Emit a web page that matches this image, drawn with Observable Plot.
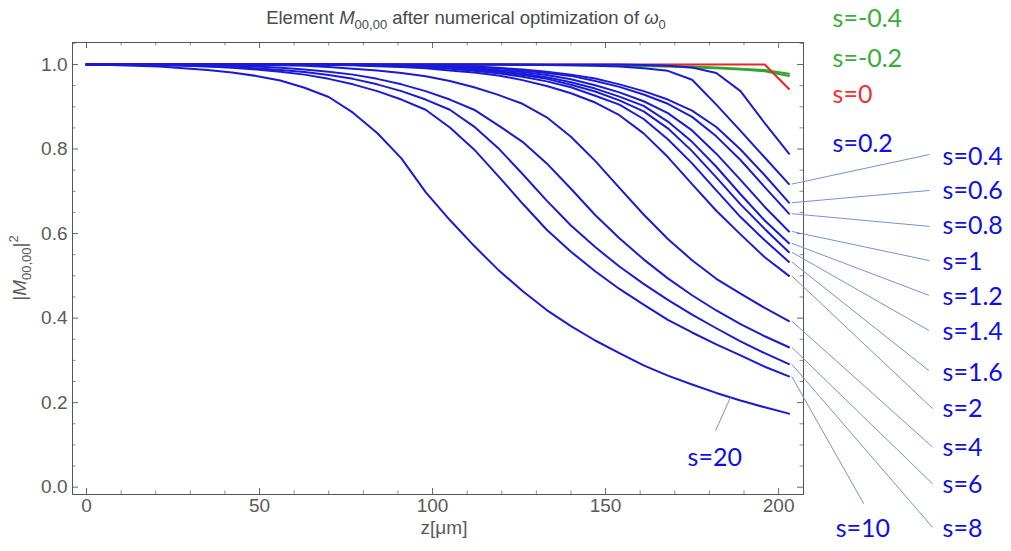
<!DOCTYPE html>
<html>
<head>
<meta charset="utf-8">
<script src="https://cdn.jsdelivr.net/npm/d3@7"></script>
<script src="https://cdn.jsdelivr.net/npm/@observablehq/plot@0.6"></script>
<style>
  body { margin: 0; background: #fff; }
  #chart { width: 1011px; height: 551px; }
</style>
</head>
<body>
<div id="chart"></div>
<script>
// Propagation distance z [µm] at which |M00,00|² was evaluated
const zGrid = [0,7,14,21,28,35,42,49,56,63,70,77,84,91,98,105,112,119,126,133,140,147,154,161,168,175,182,189,196,203];

// |M00,00|² for each value of s
const m_sNeg04 = [1,1,1,1,1,1,1,1,1,1,1,1,1,1,1,1,1,1,1,0.999,0.998,0.998,0.997,0.996,0.995,0.993,0.991,0.988,0.984,0.973];
const m_sNeg02 = [1,1,1,1,1,1,1,1,1,1,1,1,1,1,1,1,1,1,1,0.999,0.999,0.998,0.998,0.997,0.996,0.995,0.993,0.990,0.987,0.978];
const m_s0     = [1,1,1,1,1,1,1,1,1,1,1,1,1,1,1,1,1,1,1,1,1,1,1,1,1,1,1,1,1,0.942];
const m_s02    = [1,1,1,1,1,1,1,1,1,1,1,1,1,1,1,1,1,1,1,1,1,1,1,0.999,0.997,0.993,0.980,0.937,0.861,0.789];
const m_s04    = [1,1,1,1,1,1,1,1,1,1,1,1,1,1,1,1,1,1,0.999,0.999,0.998,0.997,0.995,0.991,0.985,0.964,0.905,0.843,0.780,0.717];
const m_s06    = [1,1,1,1,1,1,1,1,1,1,1,1,1,0.999,0.998,0.997,0.995,0.992,0.988,0.983,0.976,0.967,0.953,0.937,0.917,0.891,0.852,0.799,0.738,0.673];
const m_s08    = [1,1,1,1,1,1,1,1,1,1,1,1,0.999,0.999,0.997,0.996,0.994,0.991,0.986,0.980,0.973,0.961,0.947,0.929,0.907,0.876,0.830,0.774,0.710,0.647];
const m_s1     = [1,1,1,1,1,1,1,1,1,1,1,0.999,0.999,0.998,0.996,0.995,0.991,0.987,0.982,0.975,0.965,0.951,0.934,0.913,0.885,0.844,0.789,0.727,0.663,0.605];
const m_s12    = [1,1,1,1,1,1,1,1,1,1,0.999,0.999,0.998,0.997,0.996,0.993,0.989,0.984,0.978,0.970,0.958,0.943,0.924,0.902,0.865,0.817,0.758,0.693,0.631,0.577];
const m_s14    = [1,1,1,1,1,1,1,1,1,1,0.999,0.999,0.998,0.996,0.995,0.992,0.987,0.982,0.975,0.966,0.952,0.936,0.915,0.889,0.849,0.795,0.733,0.669,0.611,0.556];
const m_s16    = [1,1,1,1,1,1,1,1,1,0.9995,0.999,0.999,0.997,0.996,0.993,0.990,0.985,0.979,0.971,0.960,0.946,0.926,0.905,0.871,0.823,0.766,0.702,0.639,0.584,0.533];
const m_s2     = [1,1,1,1,1,1,1,1,0.9995,0.999,0.999,0.998,0.996,0.994,0.991,0.986,0.981,0.974,0.963,0.949,0.932,0.910,0.880,0.837,0.781,0.717,0.654,0.598,0.544,0.500];
const m_s4     = [1,1,1,1,1,1,0.999,0.999,0.998,0.997,0.994,0.990,0.986,0.980,0.972,0.961,0.946,0.928,0.907,0.875,0.829,0.772,0.708,0.645,0.587,0.537,0.493,0.458,0.424,0.393];
const m_s6     = [1,1,1,1,0.999,0.998,0.997,0.995,0.992,0.988,0.983,0.976,0.966,0.953,0.937,0.917,0.893,0.856,0.817,0.766,0.706,0.644,0.589,0.539,0.494,0.454,0.418,0.386,0.357,0.331];
const m_s8     = [1,1,1,0.999,0.998,0.996,0.994,0.991,0.987,0.982,0.975,0.966,0.953,0.937,0.917,0.893,0.853,0.802,0.741,0.678,0.619,0.568,0.522,0.481,0.443,0.408,0.376,0.345,0.317,0.291];
const m_s10    = [1,1,0.999,0.998,0.997,0.995,0.992,0.988,0.983,0.976,0.966,0.953,0.937,0.917,0.893,0.851,0.799,0.736,0.671,0.609,0.557,0.511,0.469,0.432,0.396,0.366,0.338,0.312,0.285,0.262];
const m_s20    = [1,0.999,0.997,0.995,0.991,0.987,0.981,0.973,0.962,0.945,0.923,0.886,0.838,0.778,0.698,0.632,0.571,0.514,0.464,0.419,0.381,0.347,0.317,0.288,0.264,0.243,0.223,0.205,0.189,0.174];

const sNames  = ["s=-0.4","s=-0.2","s=0","s=0.2","s=0.4","s=0.6","s=0.8","s=1","s=1.2","s=1.4","s=1.6","s=2","s=4","s=6","s=8","s=10","s=20"];
const sSeries = [m_sNeg04,m_sNeg02,m_s0,m_s02,m_s04,m_s06,m_s08,m_s1,m_s12,m_s14,m_s16,m_s2,m_s4,m_s6,m_s8,m_s10,m_s20];
const sGroup  = ["neg","neg","zero","pos","pos","pos","pos","pos","pos","pos","pos","pos","pos","pos","pos","pos","pos"];

// Annotation placement (data units: z, |M|²) and leader lines
const labelZ = [215.6,215.6,215.6,215.6,247.4,247.4,247.4,247.4,247.4,247.4,247.4,247.4,247.4,247.4,247.4,216.5,173.7];
const labelV = [1.107,1.012,0.927,0.811,0.780,0.700,0.617,0.532,0.450,0.368,0.270,0.184,0.093,0.006,-0.098,-0.098,0.070];
const leaderFromZ = [null,null,null,null,203.8,203.8,203.8,203.8,203.8,203.8,203.8,203.8,203.8,203.8,203.8,203.8,186.1];
const leaderToZ   = [null,null,null,null,243.6,243.6,243.6,243.6,243.4,243.4,243.4,244.5,244.5,244.5,244.5,224.6,181.8];
const leaderToV   = [null,null,null,null,0.787,0.702,0.617,0.536,0.454,0.371,0.276,0.186,0.095,0.008,-0.095,-0.039,0.134];

const xMajor = [0,50,100,150,200];
const xMinor = [10,20,30,40,60,70,80,90,110,120,130,140,160,170,180,190,200];
const yMajor = [0,0.2,0.4,0.6,0.8,1.0];
const yMinor = [0.05,0.1,0.15,0.25,0.3,0.35,0.45,0.5,0.55,0.65,0.7,0.75,0.85,0.9,0.95,1.05];

const colors = {neg: "#2fa52f", zero: "#ee2424", pos: "#1a1ad9"};
const labelColors = {neg: "#38ae38", zero: "#f23030", pos: "#1010e6"};

// tidy rows for the line marks
const rows = sNames.flatMap((name, i) =>
  zGrid.map((z, j) => ({s: name, group: sGroup[i], z, v: sSeries[i][j]})));

// value of a series at z (linear between samples), used to anchor leaders on the curve
function valueAt(series, z) {
  if (z >= zGrid[zGrid.length - 1]) return series[series.length - 1];
  const j = zGrid.findIndex(g => g > z);
  const t = (z - zGrid[j - 1]) / (zGrid[j] - zGrid[j - 1]);
  return series[j - 1] + t * (series[j] - series[j - 1]);
}

const labels = sNames.map((name, i) => ({
  text: name, group: sGroup[i], z: labelZ[i], v: labelV[i]
}));
const leaders = sNames.map((name, i) => leaderFromZ[i] == null ? null : ({
  x1: leaderFromZ[i],
  y1: valueAt(sSeries[i], Math.min(leaderFromZ[i], 203)),
  x2: leaderToZ[i], y2: leaderToV[i]
})).filter(Boolean);

const W = 1011, H = 551;
const mL = 72, mR = 208, mT = 42, mB = 57;
const fw = W - mL - mR, fh = H - mT - mB;

const plot = Plot.plot({
  width: W, height: H,
  marginLeft: mL, marginRight: mR, marginTop: mT, marginBottom: mB,
  x: {domain: [-4.05, 207.2]},
  y: {domain: [-0.0173, 1.052]},
  style: {fontFamily: "'Liberation Sans', Arial, sans-serif", fontSize: "19px", background: "#fff", overflow: "visible"},
  marks: [
    // inward frame ticks on all four sides
    Plot.tickX(xMajor, {x: d => d, insetTop: fh - 6, stroke: "#666"}),
    Plot.tickX(xMinor, {x: d => d, insetTop: fh - 3.5, stroke: "#888"}),
    Plot.tickX(xMajor, {x: d => d, insetBottom: fh - 6, stroke: "#666"}),
    Plot.tickX(xMinor, {x: d => d, insetBottom: fh - 3.5, stroke: "#888"}),
    Plot.tickY(yMajor, {y: d => d, insetRight: fw - 6, stroke: "#666"}),
    Plot.tickY(yMinor, {y: d => d, insetRight: fw - 3.5, stroke: "#888"}),
    Plot.tickY(yMajor, {y: d => d, insetLeft: fw - 6, stroke: "#666"}),
    Plot.tickY(yMinor, {y: d => d, insetLeft: fw - 3.5, stroke: "#888"}),
    Plot.axisX({ticks: xMajor, tickSize: 0, tickPadding: 4, fontSize: 19, fill: "#5a5a5a", label: null}),
    Plot.axisY({ticks: yMajor, tickSize: 0, tickPadding: 5, fontSize: 19, fill: "#5a5a5a", label: null,
                tickFormat: d3.format(".1f")}),
    Plot.text(["z[μm]"], {frameAnchor: "bottom", dy: 39, dx: 6, fontSize: 19, fill: "#5a5a5a"}),
    Plot.frame({stroke: "#555", strokeWidth: 1}),
    // curves: negative s, s = 0, then positive s on top
    Plot.line(rows.filter(d => d.group === "neg"), {x: "z", y: "v", z: "s", stroke: colors.neg, strokeWidth: 2}),
    Plot.line(rows.filter(d => d.group === "zero"), {x: "z", y: "v", z: "s", stroke: colors.zero, strokeWidth: 2}),
    Plot.line(rows.filter(d => d.group === "pos"), {x: "z", y: "v", z: "s", stroke: colors.pos, strokeWidth: 2}),
    // leader lines and annotations
    Plot.link(leaders, {x1: "x1", y1: "y1", x2: "x2", y2: "y2", stroke: "#7494cc", strokeWidth: 1}),
    ...["neg", "zero", "pos"].map(g =>
      Plot.text(labels.filter(d => d.group === g), {
        x: "z", y: "v", text: "text", fill: labelColors[g], fontSize: 25,
        textAnchor: "start", fontFamily: "Lato, 'Open Sans', sans-serif"
      }))
  ]
});
document.getElementById("chart").append(plot);

// title and y-axis label with sub/superscripts
const svg = d3.select(plot);
const title = svg.append("text")
  .attr("x", 466).attr("y", 24)
  .attr("text-anchor", "middle")
  .attr("font-size", 18.5).attr("fill", "#4a4a4a");
title.append("tspan").text("Element ");
title.append("tspan").attr("font-style", "italic").text("M");
title.append("tspan").attr("dy", 5).attr("font-size", 13).text("00,00");
title.append("tspan").attr("dy", -5).text(" after numerical optimization of ");
title.append("tspan").attr("font-style", "italic").text("ω");
title.append("tspan").attr("dy", 5).attr("font-size", 13).text("0");

const ylab = svg.append("text")
  .attr("transform", `translate(26,${mT + fh / 2}) rotate(-90)`)
  .attr("text-anchor", "middle")
  .attr("font-size", 19).attr("fill", "#5a5a5a");
ylab.append("tspan").text("|");
ylab.append("tspan").attr("font-style", "italic").text("M");
ylab.append("tspan").attr("dy", 5).attr("font-size", 13).text("00,00");
ylab.append("tspan").attr("dy", -5).text("|");
ylab.append("tspan").attr("dy", -8).attr("font-size", 13).text("2");
</script>
</body>
</html>
